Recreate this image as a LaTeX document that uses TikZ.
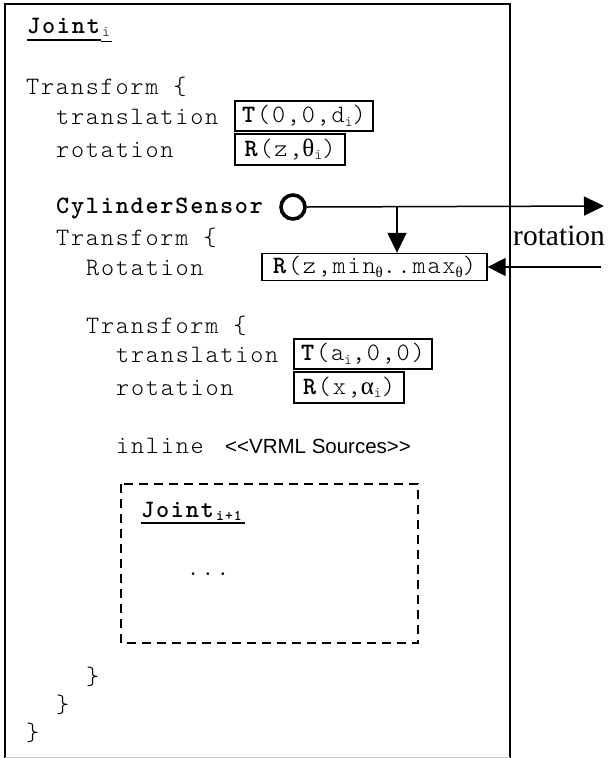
\documentclass[tikz,border=0pt]{standalone}
\usepackage{fontspec}
\setmainfont{Liberation Serif}
\newfontfamily\cour[LetterSpace=7.1]{Latin Modern Mono Light}
\newfontfamily\arial{Liberation Sans}
\newfontfamily\tnr{Liberation Serif}
\usetikzlibrary{arrows.meta}
% small lowered index in the current font
\newcommand\sub[1]{\raisebox{-3.5pt}{\fontsize{15}{15}\selectfont #1}}
\begin{document}
\begin{tikzpicture}[x=1pt,y=-1pt,
  code/.style={inner sep=0pt, anchor=base west, font=\cour\fontsize{25}{30}\selectfont},
  vbox/.style={draw, line width=1.4pt, inner sep=0pt, font=\cour\fontsize{25}{30}\selectfont},
  conn/.style={line width=1.5pt},
  tip/.style={-{Triangle[length=20pt,width=19pt]}},
  uline/.style={line width=2.2pt},
  frame/.style={line width=2pt}
]
\useasboundingbox (0,0) rectangle (613,758);

% outer frame of Joint_i
\draw[frame] (5,758) -- (5,4) -- (510,4) -- (510,758);
\draw[gray!45, line width=1pt] (5,757.5) -- (510,757.5);

% header
\node[code] (j1) at (27,33) {\textbf{Joint}};
\node[code, anchor=base west] (j1s) at (j1.base east) {\sub{i}};
\draw[uline] (27,40) -- (101,40);
\draw[line width=1pt] (101,41) -- (112,41);

% first transform
\node[code] (tf1) at (26,94) {Transform \{};
\node[code] (tr1) at (56,124) {translation};
\node[code] (ro1) at (56,157) {rotation};
\node[vbox, minimum width=138pt, minimum height=30pt] (T1) at (304,116) {\textbf{T}(0,0,d\sub{i})};
\node[vbox, minimum width=110pt, minimum height=31pt] (R1) at (290,149.5) {\textbf{R}(z,{\tnr θ}\sub{i})};

% sensor
\node[code] (cyl) at (56,213) {\textbf{CylinderSensor}};
\node[draw, circle, line width=3.6pt, minimum size=24pt, inner sep=0pt] (sens) at (293,207) {};
\coordinate (out) at (604,206);
\coordinate (tap) at (397,206);
\coordinate (in) at (601,267);
\node[inner sep=0pt, anchor=base west, font=\tnr\fontsize{29.5}{30}\selectfont] (rot) at (513,245) {rotation};

% second transform
\node[code] (tf2) at (56,245) {Transform \{};
\node[code] (rt2) at (86,275) {Rotation};
\node[vbox, minimum width=225pt, minimum height=27pt] (Rr) at (374.5,267) {\textbf{R}(z,min\sub{\tnr θ}..max\sub{\tnr θ})};

% third transform
\node[code] (tf3) at (86,333) {Transform \{};
\node[code] (tr3) at (116,362) {translation};
\node[code] (ro3) at (116,395) {rotation};
\node[vbox, minimum width=138pt, minimum height=30pt] (T2) at (363,354) {\textbf{T}(a\sub{i},0,0)};
\node[vbox, minimum width=110pt, minimum height=31pt] (R2) at (349,387.5) {\textbf{R}(x,{\tnr α}\sub{i})};

\node[code] (inl) at (116,453) {inline};
\node[inner sep=0pt, anchor=base west, font=\arial\fontsize{20.5}{24}\selectfont] (src) at (225,453) {<<VRML Sources>>};

% inlined child joint
\draw[line width=2pt, dash pattern=on 9pt off 6pt] (121,484) rectangle (418,643);
\node[code] (j2) at (141,517) {\textbf{Joint}};
\node[code, anchor=base west] (j2s) at (j2.base east) {\sub{\textbf{i+1}}};
\draw[uline] (141,523) -- (216,523);
\draw[line width=1.6pt] (216,523) -- (245,523);
\node[code, anchor=base] (dots) at (208,575) {...};

% closing braces
\node[code] (c1) at (86,684) {\}};
\node[code] (c2) at (56,712) {\}};
\node[code] (c3) at (26,740) {\}};

% routes
\draw[conn, tip] (sens.east) -- (out);
\draw[conn, tip] (tap) -- (tap |- Rr.north);
\draw[conn, -{Triangle[length=18pt,width=18pt]}] (in) -- (Rr.east);
\end{tikzpicture}
\end{document}
